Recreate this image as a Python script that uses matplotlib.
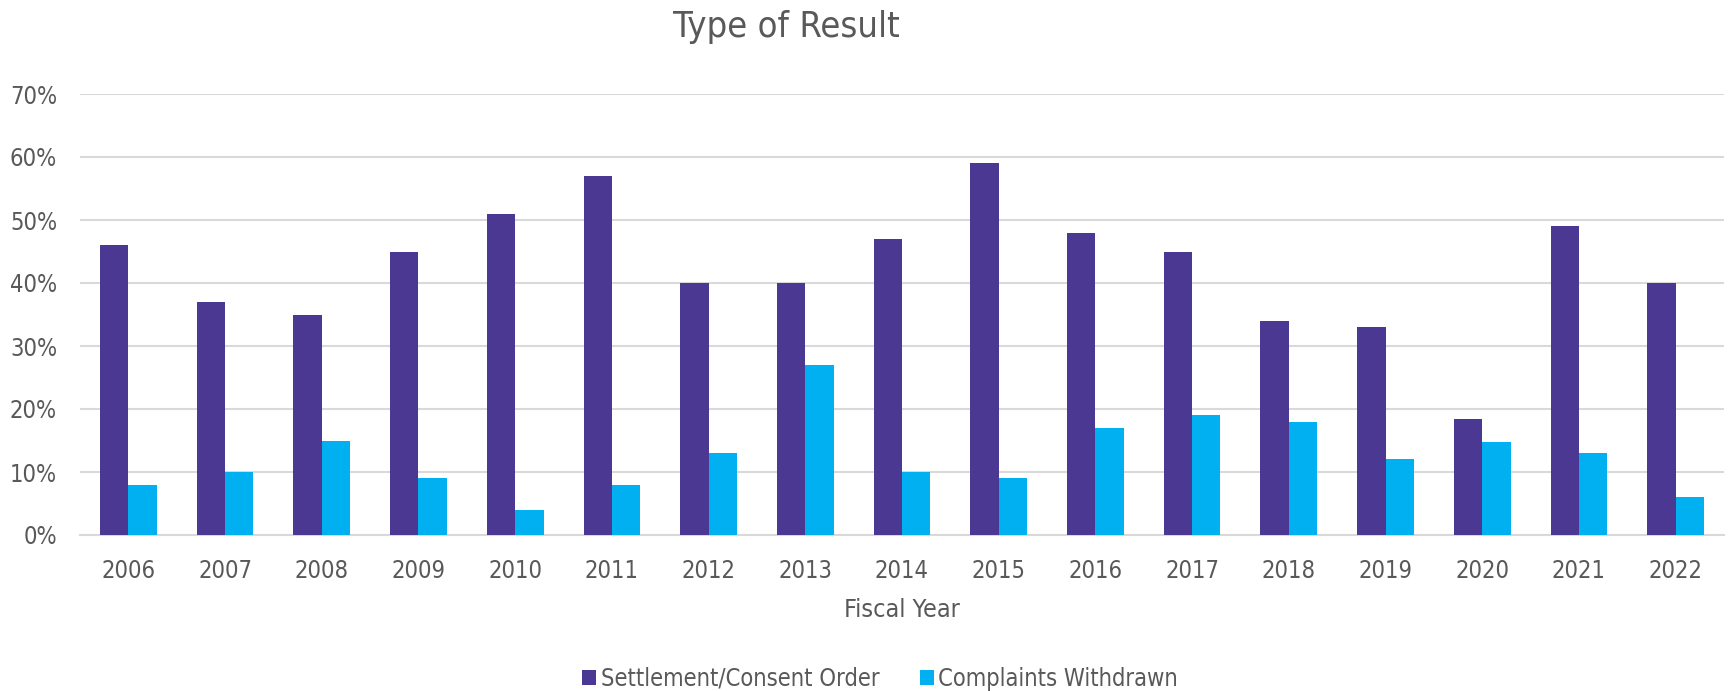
import matplotlib
matplotlib.use("Agg")
import matplotlib.pyplot as plt
import numpy as np
from matplotlib.patches import Patch

years = ["2006", "2007", "2008", "2009", "2010", "2011", "2012", "2013", "2014",
         "2015", "2016", "2017", "2018", "2019", "2020", "2021", "2022"]
settlement = [46, 37, 35, 45, 51, 57, 40, 40, 47, 59, 48, 45, 34, 33, 18.4, 49, 40]
withdrawn = [8, 10, 15, 9, 4, 8, 13, 27, 10, 9, 17, 19, 18, 12, 14.7, 13, 6]
series_names = ["Settlement/Consent Order", "Complaints Withdrawn"]
yticks = [0, 10, 20, 30, 40, 50, 60, 70]

purple = "#4B3893"
blue = "#00B0F0"
text_c = "#595959"
grid_c = "#D9D9D9"

plt.rcParams['font.family'] = ['DejaVu Sans']
plt.rcParams['font.stretch'] = 'condensed'

fig = plt.figure(figsize=(17.29, 6.91), dpi=100)
ax = fig.add_axes([80/1729, 1-535/691, (1724-80)/1729, (535-94)/691])

x = np.arange(len(years))
w = 0.293
ax.bar(x - w/2, settlement, width=w, color=purple, zorder=3)
ax.bar(x + w/2, withdrawn, width=w, color=blue, zorder=3)

ax.set_xlim(-0.5, len(years) - 0.5)
ax.set_ylim(0, 70)
ax.set_yticks(yticks)
ax.set_yticklabels([f"{v}%" for v in yticks])
ax.set_xticks(x)
ax.set_xticklabels(years)
ax.yaxis.grid(True, color=grid_c, linewidth=1.5, zorder=0)
ax.set_axisbelow(True)
for s in ["top", "right", "left"]:
    ax.spines[s].set_visible(False)
ax.spines["bottom"].set_color(grid_c)
ax.spines["bottom"].set_linewidth(1.5)
ax.tick_params(axis="both", length=0, labelsize=17, labelcolor=text_c)
ax.tick_params(axis="y", pad=16.5)
ax.tick_params(axis="x", pad=17.5)
ax.set_xlabel("Fiscal Year", fontsize=18, color=text_c, labelpad=10.5)

fig.text(786/1729, 1-37/691, "Type of Result", ha="center", va="baseline", fontsize=26, color=text_c)

handles = [Patch(facecolor=purple), Patch(facecolor=blue)]
leg = fig.legend(handles, series_names, loc="center", bbox_to_anchor=(880/1729, 1-679/691),
                 ncol=2, frameon=False, fontsize=17, handlelength=0.6, handleheight=0.6,
                 handletextpad=0.2, columnspacing=1.7, labelcolor=text_c, borderpad=0)

fig.savefig("out.png", dpi=100)
